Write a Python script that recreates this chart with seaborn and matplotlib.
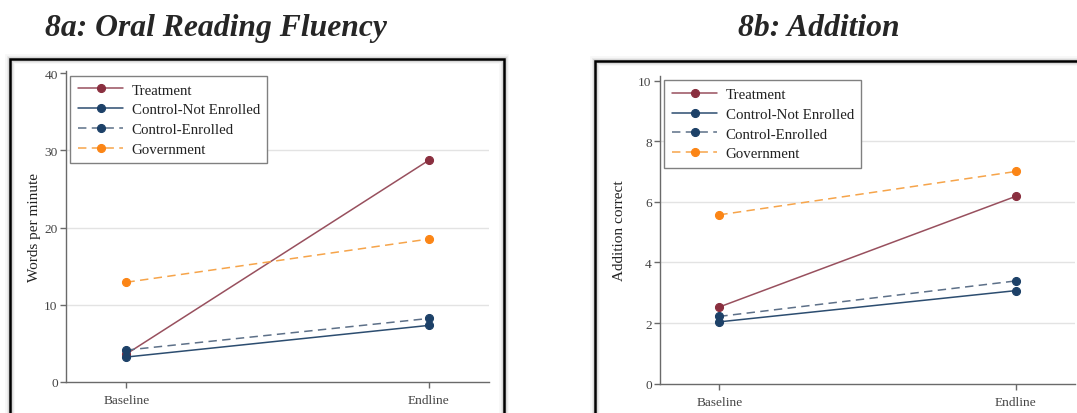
import matplotlib
matplotlib.use("Agg")
import matplotlib.pyplot as plt
from matplotlib.patches import Rectangle
import seaborn as sns
import pandas as pd

# ---- data -------------------------------------------------------------
rounds = ["Baseline", "Endline"]
groups = ["Treatment", "Control-Not Enrolled", "Control-Enrolled", "Government"]

# 8a: oral reading fluency (words per minute)
orf_treatment = [3.6, 28.7]
orf_control_not_enrolled = [3.2, 7.3]
orf_control_enrolled = [4.1, 8.2]
orf_government = [12.9, 18.5]

# 8b: addition items correct
add_treatment = [2.53, 6.18]
add_control_not_enrolled = [2.04, 3.07]
add_control_enrolled = [2.22, 3.39]
add_government = [5.57, 7.0]

orf_ticks = [0, 10, 20, 30, 40]
add_ticks = [0, 2, 4, 6, 8, 10]

# ---- style ------------------------------------------------------------
sns.set_theme(style="white")
plt.rcParams["font.family"] = ["Liberation Serif", "DejaVu Serif"]

styles = {
    "Treatment": dict(line="#98505e", marker="#8a2f3f", ls="-"),
    "Control-Not Enrolled": dict(line="#2c4d70", marker="#1d4168", ls="-"),
    "Control-Enrolled": dict(line="#5d7088", marker="#1d4168", ls=(0, (5.5, 3.5))),
    "Government": dict(line="#f6a44a", marker="#fb8516", ls=(0, (5.5, 3.5))),
}

W, H = 1077, 414
fig = plt.figure(figsize=(W / 100, H / 100), dpi=100)


def px_axes(x0, x1, y_top, y_bot):
    return fig.add_axes([x0 / W, (H - y_bot) / H, (x1 - x0) / W, (y_bot - y_top) / H])


def panel_box(x0, y_top, x1):
    # framed panel with a soft grey halo, running off the bottom of the figure
    rect = (x0 / W, -0.1)
    w = (x1 - x0) / W
    h = (H - y_top) / H + 0.1
    for lw, a in [(7, 0.06), (5, 0.10), (3.5, 0.18)]:
        fig.add_artist(Rectangle(rect, w, h, transform=fig.transFigure, fill=False,
                                 ec="#808080", lw=lw, alpha=a, clip_on=False))
    fig.add_artist(Rectangle(rect, w, h, transform=fig.transFigure, fill=False,
                             ec="black", lw=1.8, clip_on=False))


def draw_panel(ax, series, ticks, ytop, ylabel, labelpad):
    for name, vals in zip(groups, series):
        st = styles[name]
        df = pd.DataFrame({"x": [0, 1], "y": vals})
        sns.lineplot(data=df, x="x", y="y", ax=ax, color=st["line"], lw=1.1,
                     linestyle=st["ls"], marker="o", markersize=5.8,
                     markerfacecolor=st["marker"], markeredgecolor=st["marker"],
                     label=name)
    ax.set_xlim(-0.2, 1.2)
    ax.set_ylim(0, ytop)
    ax.set_xticks([0, 1])
    ax.set_xticklabels(rounds)
    ax.set_yticks(ticks)
    ax.set_xlabel("")
    ax.set_ylabel(ylabel, fontsize=11, color="#222222", labelpad=labelpad)
    ax.yaxis.grid(True, color="#e3e3e3", lw=1.0)
    ax.set_axisbelow(True)
    gl = ax.get_ygridlines()
    gl[0].set_visible(False)
    gl[-1].set_visible(False)
    for side in ["top", "right"]:
        ax.spines[side].set_visible(False)
    for side in ["left", "bottom"]:
        ax.spines[side].set_color("#6a6a6a")
        ax.spines[side].set_linewidth(1.0)
    ax.tick_params(axis="both", which="major", direction="out", length=4, width=1,
                   color="#6a6a6a", labelsize=9.6, labelcolor="#444444", pad=2,
                   left=True, bottom=True)
    ax.tick_params(axis="x", pad=5)
    ax.set_facecolor("none")
    leg = ax.legend(loc="upper left", bbox_to_anchor=(0.0, 1.0), fontsize=10.7,
                    frameon=True, fancybox=False, framealpha=1, edgecolor="#808080",
                    handlelength=3.05, handletextpad=0.57, labelspacing=0.43,
                    borderpad=0.5, borderaxespad=0.3)
    leg.get_frame().set_linewidth(1.0)
    for t in leg.get_texts():
        t.set_color("#222222")


panel_box(10, 60, 504)
panel_box(595, 62, 1140)

ax1 = px_axes(66, 489, 72.3, 382.7)
draw_panel(ax1, [orf_treatment, orf_control_not_enrolled, orf_control_enrolled, orf_government],
           orf_ticks, 40.26, "Words per minute", 2.5)

ax2 = px_axes(660, 1075, 76.7, 384.7)
draw_panel(ax2, [add_treatment, add_control_not_enrolled, add_control_enrolled, add_government],
           add_ticks, 10.16, "Addition correct", 9)

title_kw = dict(ha="center", va="baseline", fontsize=22.8, fontweight="bold",
                fontstyle="italic", family="Liberation Serif")
fig.text(216 / W, 1 - 36 / H, "8a: Oral Reading Fluency", **title_kw)
fig.text(819 / W, 1 - 36 / H, "8b: Addition", **title_kw)

fig.savefig("out.png", dpi=100, facecolor="white")
